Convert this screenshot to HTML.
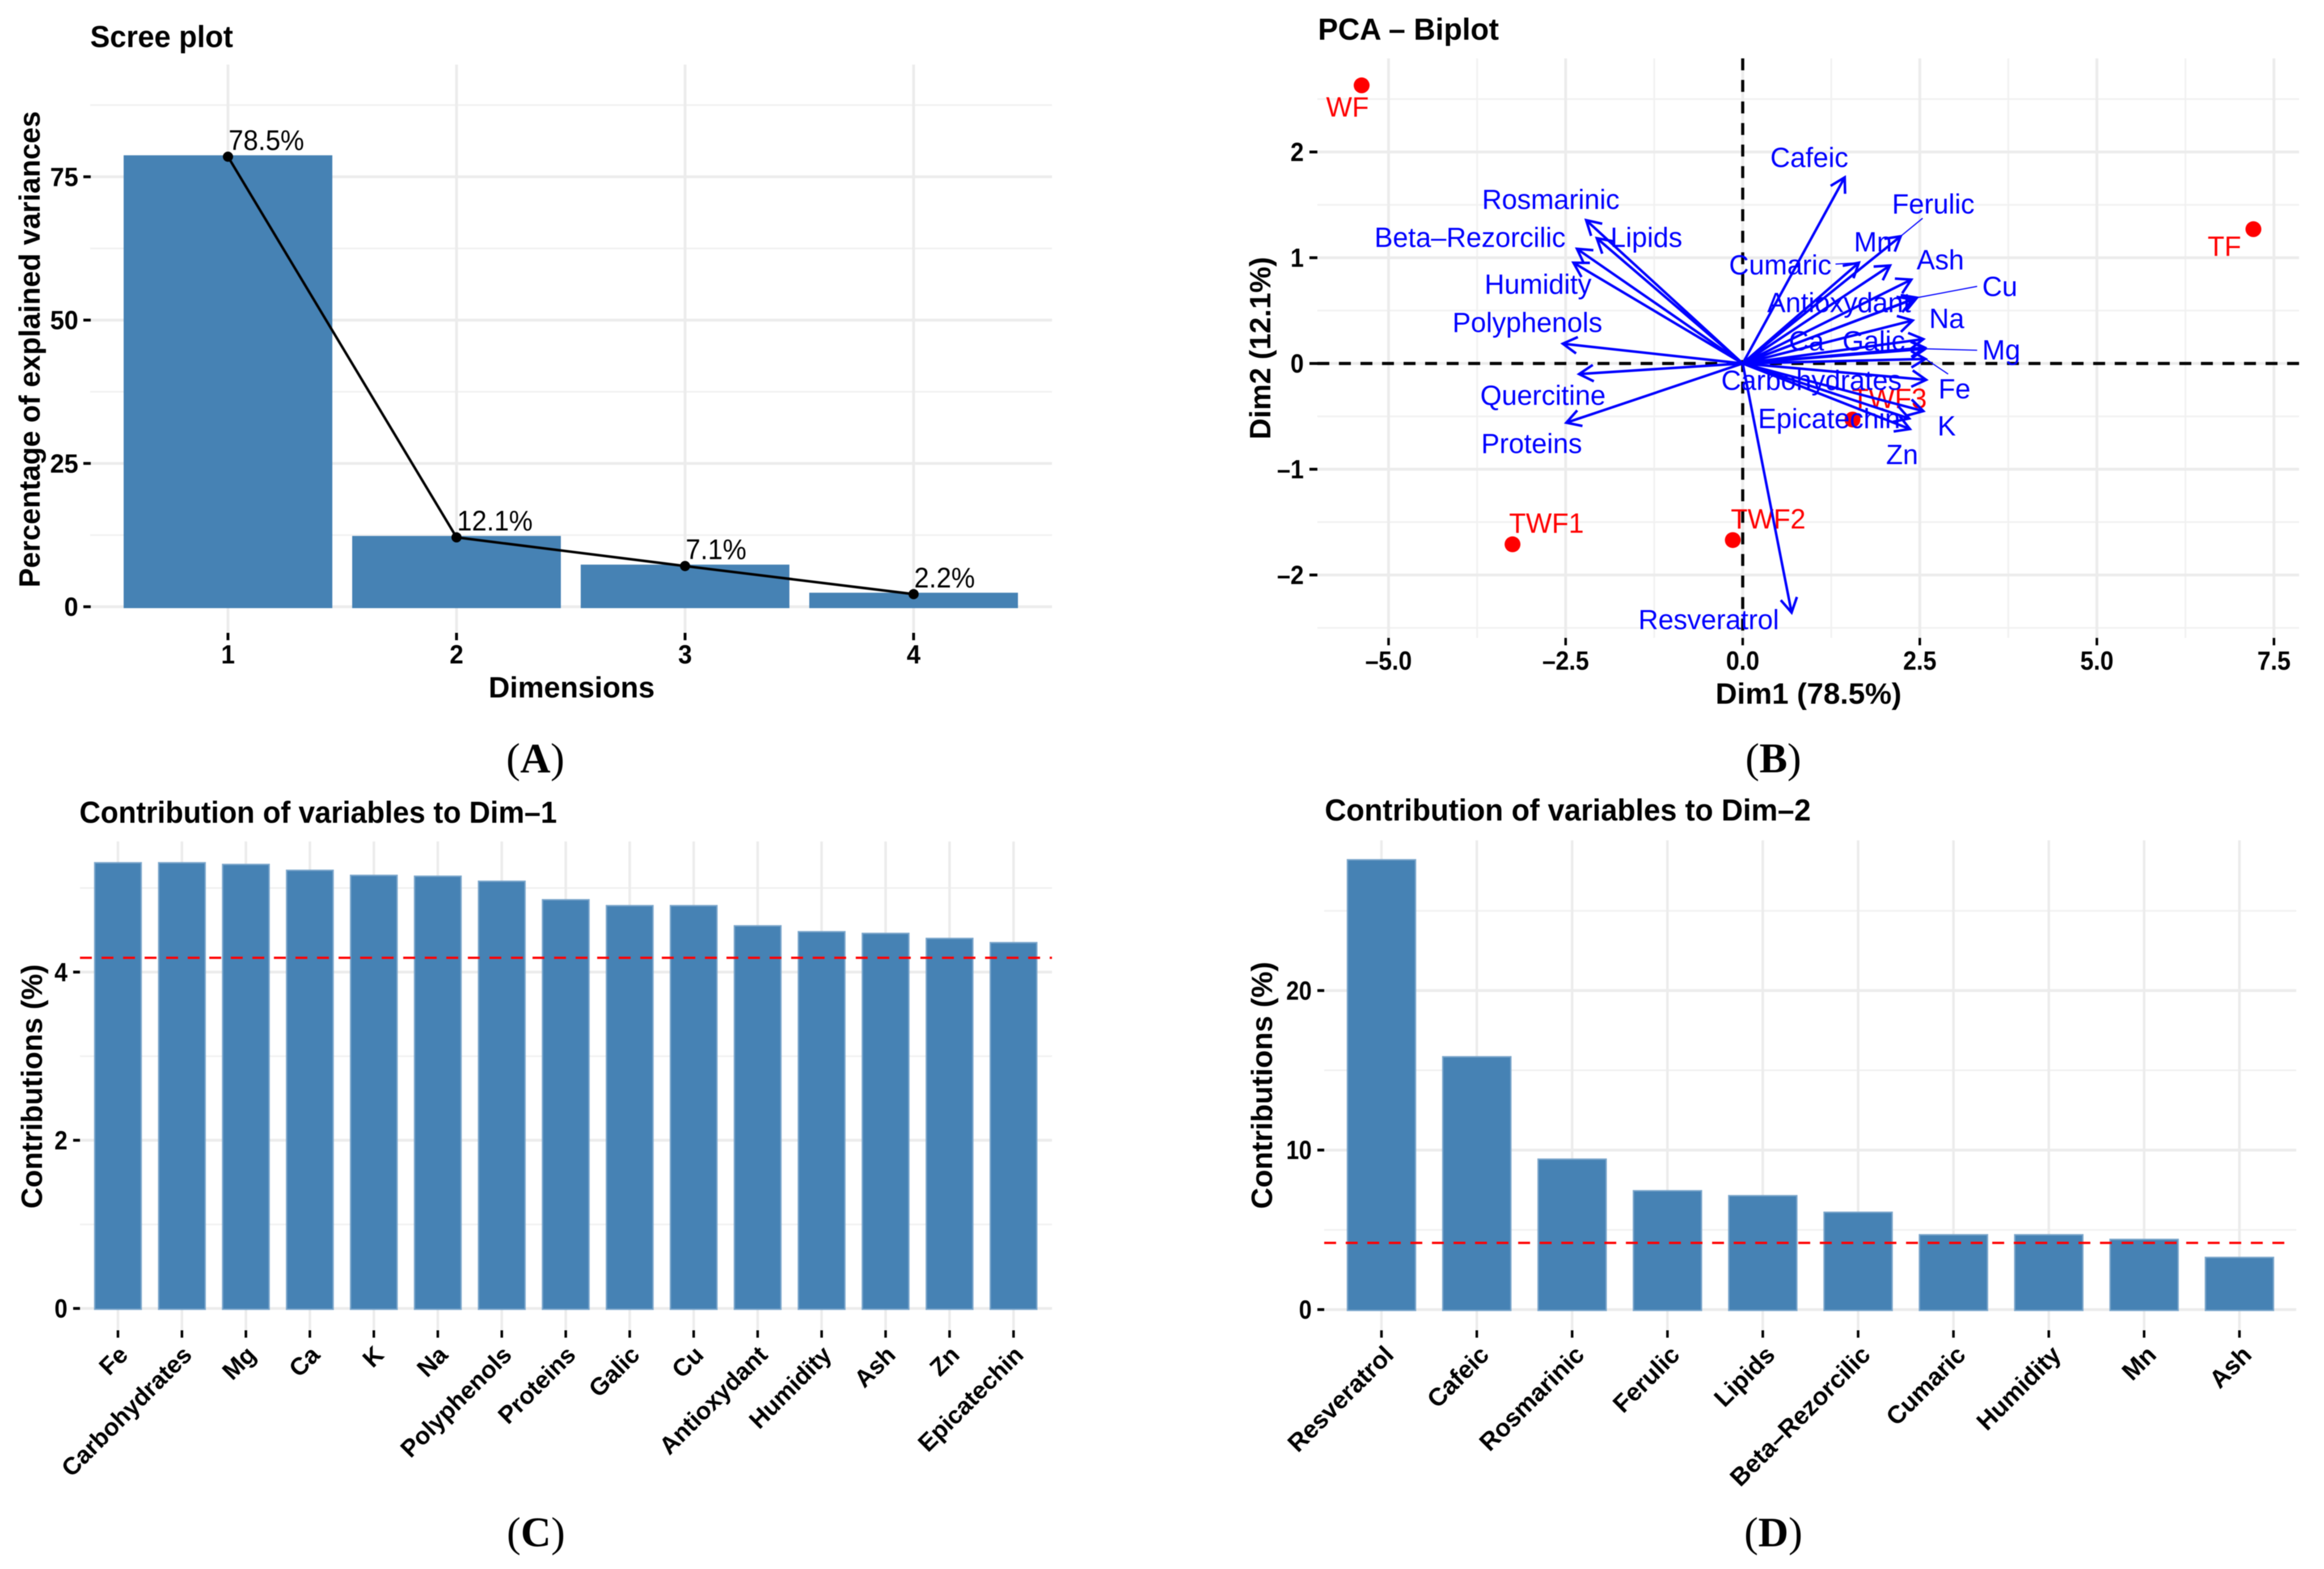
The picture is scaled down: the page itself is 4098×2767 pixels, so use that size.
<!DOCTYPE html>
<html lang="en">
<head>
<meta charset="utf-8">
<title>PCA figure: scree plot, biplot and variable contributions</title>
<style>
html,body{margin:0;padding:0;background:#fff;}
svg{display:block;filter:blur(0.9px);}
text{font-family:"Liberation Sans",Arial,sans-serif;fill:#000;}
.ttl{font-weight:bold;font-size:54px;}
.axt{font-weight:bold;font-size:52px;}
.cap{font-family:"Liberation Serif",serif;font-size:74px;}
</style>
</head>
<body>
<svg id="figure" xmlns="http://www.w3.org/2000/svg" width="4098" height="2767" viewBox="0 0 4098 2767">
  <rect x="0" y="0" width="4098" height="2767" fill="#ffffff"/>

  <g id="panelA"></g>
  <g id="panelB"></g>
  <g id="panelC"></g>
  <g id="panelD"></g>

  <text class="ttl" x="159" y="83" textLength="252" lengthAdjust="spacingAndGlyphs">Scree plot</text>
  <text class="axt" x="1008" y="1230" text-anchor="middle" textLength="293" lengthAdjust="spacingAndGlyphs">Dimensions</text>
  <text class="axt" transform="translate(70,616) rotate(-90)" text-anchor="middle" textLength="840" lengthAdjust="spacingAndGlyphs">Percentage of explained variances</text>
  <text class="cap" x="944" y="1362" text-anchor="middle">(<tspan font-weight="bold">A</tspan>)</text>

  <text class="ttl" x="2324" y="70" textLength="319" lengthAdjust="spacingAndGlyphs">PCA – Biplot</text>
  <text class="axt" x="3189" y="1241" text-anchor="middle" textLength="328" lengthAdjust="spacingAndGlyphs">Dim1 (78.5%)</text>
  <text class="axt" transform="translate(2240,614) rotate(-90)" text-anchor="middle" textLength="322" lengthAdjust="spacingAndGlyphs">Dim2 (12.1%)</text>
  <text class="cap" x="3127" y="1362" text-anchor="middle">(<tspan font-weight="bold">B</tspan>)</text>

  <text class="ttl" x="140" y="1451" textLength="842" lengthAdjust="spacingAndGlyphs">Contribution of variables to Dim–1</text>
  <text class="axt" transform="translate(74,1916) rotate(-90)" text-anchor="middle" textLength="431" lengthAdjust="spacingAndGlyphs">Contributions (%)</text>
  <text class="cap" x="945" y="2727" text-anchor="middle">(<tspan font-weight="bold">C</tspan>)</text>

  <text class="ttl" x="2336" y="1447" textLength="857" lengthAdjust="spacingAndGlyphs">Contribution of variables to Dim–2</text>
  <text class="axt" transform="translate(2243,1914) rotate(-90)" text-anchor="middle" textLength="436" lengthAdjust="spacingAndGlyphs">Contributions (%)</text>
  <text class="cap" x="3127" y="2727" text-anchor="middle">(<tspan font-weight="bold">D</tspan>)</text>
</svg>

<script>
// ---------- Panel A data ----------
const screeDimensions = [1, 2, 3, 4];
const screeValues = [78.5, 12.1, 7.1, 2.2];
const screeYTicks = [0, 25, 50, 75];
const screeYMinor = [12.5, 37.5, 62.5, 87.5];

// ---------- Panel B data ----------
const varNames = ["Cafeic","Rosmarinic","Lipids","Beta–Rezorcilic","Humidity","Polyphenols","Quercitine","Proteins","Resveratrol","Ferulic","Cumaric","Mn","Ash","Cu","Antioxydant","Galic","Na","Ca","Mg","Fe","Carbohydrates","K","Epicatechin","Zn"];
const varDim1 = [1.44,-2.21,-2.06,-2.34,-2.39,-2.54,-2.31,-2.49,0.69,2.23,1.64,2.08,2.38,2.46,2.40,2.40,2.55,2.57,2.58,2.58,2.59,2.55,2.35,2.36];
const varDim2 = [1.76,1.355,1.185,1.084,0.953,0.187,-0.10,-0.56,-2.355,1.203,0.953,0.926,0.793,0.622,0.605,0.407,0.23,0.15,0.139,0.043,-0.155,-0.45,-0.52,-0.62];
const varLabelDim1 = [0.94,-2.71,-1.36,-3.85,-2.89,-3.04,-2.82,-2.98,-0.48,2.69,0.53,1.84,2.79,3.63,1.36,1.85,2.88,0.90,3.65,2.99,0.97,2.88,1.22,2.25];
const varLabelDim2 = [1.857,1.46,1.101,1.101,0.66,0.297,-0.392,-0.847,-2.513,1.417,0.843,1.058,0.89,0.637,0.484,0.124,0.335,0.124,0.038,-0.33,-0.249,-0.68,-0.61,-0.952];
const leaderNames = ["Ferulic","Cumaric","Cu","Mg","Fe"];
const leaderEndDim1 = [2.54,1.31,3.31,3.31,2.90];
const leaderEndDim2 = [1.373,0.94,0.729,0.125,-0.10];
const indNames = ["WF","TF","TWF1","TWF2","TWF3"];
const indDim1 = [-5.38,7.21,-3.25,-0.14,1.55];
const indDim2 = [2.63,1.27,-1.71,-1.67,-0.53];
const indLabelDim1 = [-5.58,6.80,-2.77,0.36,2.07];
const indLabelDim2 = [2.336,1.02,-1.60,-1.56,-0.42];
const biplotXTicks = [-5, -2.5, 0, 2.5, 5, 7.5];
const biplotXMinor = [-3.75, -1.25, 1.25, 3.75, 6.25];
const biplotYTicks = [-2, -1, 0, 1, 2];
const biplotYMinor = [-2.5, -1.5, -0.5, 0.5, 1.5, 2.5];

// ---------- Panel C data ----------
const dim1Categories = ["Fe","Carbohydrates","Mg","Ca","K","Na","Polyphenols","Proteins","Galic","Cu","Antioxydant","Humidity","Ash","Zn","Epicatechin"];
const dim1Values = [5.30,5.30,5.28,5.21,5.15,5.14,5.08,4.86,4.79,4.79,4.55,4.48,4.46,4.40,4.35];
const dim1YTicks = [0, 2, 4];
const dim1YMinor = [1, 3, 5];
const dim1Mean = [4.17];

// ---------- Panel D data ----------
const dim2Categories = ["Resveratrol","Cafeic","Rosmarinic","Ferulic","Lipids","Beta–Rezorcilic","Cumaric","Humidity","Mn","Ash"];
const dim2Values = [28.2,15.85,9.43,7.45,7.14,6.1,4.69,4.69,4.4,3.27];
const dim2YTicks = [0, 10, 20];
const dim2YMinor = [5, 15, 25];
const dim2Mean = [4.18];

// ---------- Helpers ----------
const SVGNS = "http://www.w3.org/2000/svg";
const MAJOR = "#ececec", MINOR = "#f1f1f1", STEEL = "#4682b4";

function mk(parent, tag, attrs) {
  const n = document.createElementNS(SVGNS, tag);
  for (const k in attrs) n.setAttribute(k, attrs[k]);
  parent.appendChild(n);
  return n;
}
function seg(parent, x1, y1, x2, y2, color, w, extra) {
  return mk(parent, "line", Object.assign({x1, y1, x2, y2, stroke: color, "stroke-width": w}, extra || {}));
}
function txt(parent, str, x, y, size, o) {
  o = o || {};
  const rot = o.rot ? " rotate(" + o.rot + ")" : "";
  const sq = o.sq ? " scale(" + o.sq + ",1)" : "";
  const n = mk(parent, "text", {
    transform: "translate(" + x + "," + y + ")" + rot + sq,
    "font-size": size,
    "font-weight": o.bold ? "bold" : "normal",
    "text-anchor": o.anchor || "start",
    style: "fill:" + (o.fill || "#000")
  });
  n.textContent = str;
  return n;
}
function fmt1(v) { return (v < 0 ? "–" : "") + Math.abs(v).toFixed(1); }
function fmt0(v) { return (v < 0 ? "–" : "") + Math.abs(v); }

// ---------- Panel A ----------
(function () {
  const g = document.getElementById("panelA");
  const P = {l: 159, r: 1855, t: 114, b: 1115};
  const xA = d => 402 + (d - 1) * 403;
  const yA = v => 1070 - v * 10.11;
  const bw = 363;

  screeYMinor.forEach(v => {
    const l = seg(g, P.l, yA(v), P.r, yA(v), MINOR, 3);
    
    
  });
  screeYTicks.forEach(v => {
    const l = seg(g, P.l, yA(v), P.r, yA(v), MAJOR, 5);
    
    
    const t = seg(g, 147, yA(v), 160, yA(v), "#000", 5);
    
    
    const lab = txt(g, fmt0(v), 138, yA(v) + 16, 46, {bold: true, anchor: "end", sq: 0.97});
    
    
  });
  screeDimensions.forEach(d => {
    const l = seg(g, xA(d), P.t, xA(d), P.b, MAJOR, 5);
    
    
    const t = seg(g, xA(d), 1116, xA(d), 1129, "#000", 5);
    
    
    const lab = txt(g, String(d), xA(d), 1170, 46, {bold: true, anchor: "middle", sq: 0.95});
    
    
  });
  screeValues.forEach((v, i) => {
    const x = xA(screeDimensions[i]);
    const bar = mk(g, "rect", {x: x - bw / 2, y: yA(v), width: bw, height: yA(0) - yA(v), fill: STEEL, stroke: STEEL, "stroke-width": 5});
    
    
  });
  const line = mk(g, "polyline", {
    points: screeValues.map((v, i) => xA(screeDimensions[i]) + "," + yA(v)).join(" "),
    fill: "none", stroke: "#000", "stroke-width": 4.5
  });
  
  
  screeValues.forEach((v, i) => {
    const x = xA(screeDimensions[i]);
    const pt = mk(g, "circle", {cx: x, cy: yA(v), r: 9, fill: "#000"});
    
    
    const lab = txt(g, v.toFixed(1) + "%", x + 1, yA(v) - 12, 50, {sq: 0.94});
    
    
  });
})();

// ---------- Panel B ----------
(function () {
  const g = document.getElementById("panelB");
  const P = {l: 2323, r: 4054, t: 103, b: 1125};
  const xB = v => 3073 + v * 124.9;
  const yB = v => 641 - v * 186.5;

  biplotYMinor.forEach(v => {
    const l = seg(g, P.l, yB(v), P.r, yB(v), MINOR, 3);
    
    
  });
  biplotXMinor.forEach(v => {
    const l = seg(g, xB(v), P.t, xB(v), P.b, MINOR, 3);
    
    
  });
  biplotYTicks.forEach(v => {
    const l = seg(g, P.l, yB(v), P.r, yB(v), MAJOR, 5);
    
    
    const t = seg(g, 2309, yB(v), 2323, yB(v), "#000", 5);
    
    
    const lab = txt(g, fmt0(v), 2299, yB(v) + 16, 46, {bold: true, anchor: "end", sq: 0.92});
    
    
  });
  biplotXTicks.forEach(v => {
    const l = seg(g, xB(v), P.t, xB(v), P.b, MAJOR, 5);
    
    
    const t = seg(g, xB(v), 1125, xB(v), 1138, "#000", 4.5);
    
    
    const lab = txt(g, fmt1(v), xB(v), 1181, 46, {bold: true, anchor: "middle", sq: 0.92});
    
    
  });

  const h = seg(g, P.l, yB(0), P.r, yB(0), "#000", 5.5, {"stroke-dasharray": "21 17"});
  
  
  const v0 = seg(g, xB(0), P.t, xB(0), P.b, "#000", 5.5, {"stroke-dasharray": "21 17"});
  
  

  indNames.forEach((n, i) => {
    const c = mk(g, "circle", {cx: xB(indDim1[i]), cy: yB(indDim2[i]), r: 14, fill: "#ff0000"});
    
    
    const lab = txt(g, n, xB(indLabelDim1[i]), yB(indLabelDim2[i]), 49, {anchor: "middle", fill: "#ff0000", sq: 0.99});
    
    
  });

  varNames.forEach((n, i) => {
    const tx = xB(varDim1[i]), ty = yB(varDim2[i]);
    const ox = xB(0), oy = yB(0);
    const a = Math.atan2(ty - oy, tx - ox);
    const len = 29, sp = Math.PI / 6;
    const shaft = seg(g, ox, oy, tx, ty, "#0000ff", 4.5);
    
    
    const head = mk(g, "polyline", {
      points: (tx - len * Math.cos(a - sp)) + "," + (ty - len * Math.sin(a - sp)) + " " + tx + "," + ty + " " + (tx - len * Math.cos(a + sp)) + "," + (ty - len * Math.sin(a + sp)),
      fill: "none", stroke: "#0000ff", "stroke-width": 4.5
    });
    
    
  });
  leaderNames.forEach((n, i) => {
    const k = varNames.indexOf(n);
    const l = seg(g, xB(varDim1[k]), yB(varDim2[k]), xB(leaderEndDim1[i]), yB(leaderEndDim2[i]), "#0000ff", 2);
    
    
  });
  varNames.forEach((n, i) => {
    const lab = txt(g, n, xB(varLabelDim1[i]), yB(varLabelDim2[i]), 49, {anchor: "middle", fill: "#0000ff", sq: 0.99});
    
    
  });
})();

// ---------- Panels C and D ----------
function contributionPanel(g, cats, vals, yTicks, yMinor, mean, G) {
  const xC = i => G.x0 + i * G.dx;
  const yC = v => G.y0 - v * G.sy;

  yMinor.forEach(v => {
    const l = seg(g, G.l, yC(v), G.r, yC(v), MINOR, 3);
    
    
  });
  yTicks.forEach(v => {
    const l = seg(g, G.l, yC(v), G.r, yC(v), MAJOR, 5);
    
    
    const t = seg(g, G.l - 12, yC(v), G.l, yC(v), "#000", 5);
    
    
    const lab = txt(g, fmt0(v), G.l - 22, yC(v) + 16, 46, {bold: true, anchor: "end", sq: G.sq});
    
    
  });
  cats.forEach((c, i) => {
    const l = seg(g, xC(i), G.t, xC(i), G.b, MAJOR, 4.5);
    
    
    const t = seg(g, xC(i), G.b + 1, xC(i), G.b + 14, "#000", 4.5);
    
    
    const lab = txt(g, c, xC(i) + G.labelDx, 2392, G.labelSize, {bold: true, anchor: "end", rot: -45});
    
    
  });
  vals.forEach((v, i) => {
    const bar = mk(g, "rect", {x: xC(i) - G.bw / 2, y: yC(v), width: G.bw, height: yC(0) - yC(v) + 1.5, fill: STEEL, stroke: "#7ba6cb", "stroke-width": 2.5});
    
    
  });
  mean.forEach(m => {
    const ref = seg(g, G.l, yC(m), G.refEnd, yC(m), "#ff0000", 4, {"stroke-dasharray": "21 17"});
    
    
  });
}
contributionPanel(document.getElementById("panelC"), dim1Categories, dim1Values, dim1YTicks, dim1YMinor, dim1Mean,
  {l: 141, r: 1855, refEnd: 1855, t: 1484, b: 2345, x0: 208, dx: 112.8, y0: 2307.5, sy: 148.3, bw: 82, sq: 0.9, labelDx: 20, labelSize: 43});
contributionPanel(document.getElementById("panelD"), dim2Categories, dim2Values, dim2YTicks, dim2YMinor, dim2Mean,
  {l: 2335, r: 4049, refEnd: 4040, t: 1482, b: 2345, x0: 2436, dx: 168.1, y0: 2309.5, sy: 28.13, bw: 120, sq: 0.88, labelDx: 24, labelSize: 44});
</script>
</body>
</html>
